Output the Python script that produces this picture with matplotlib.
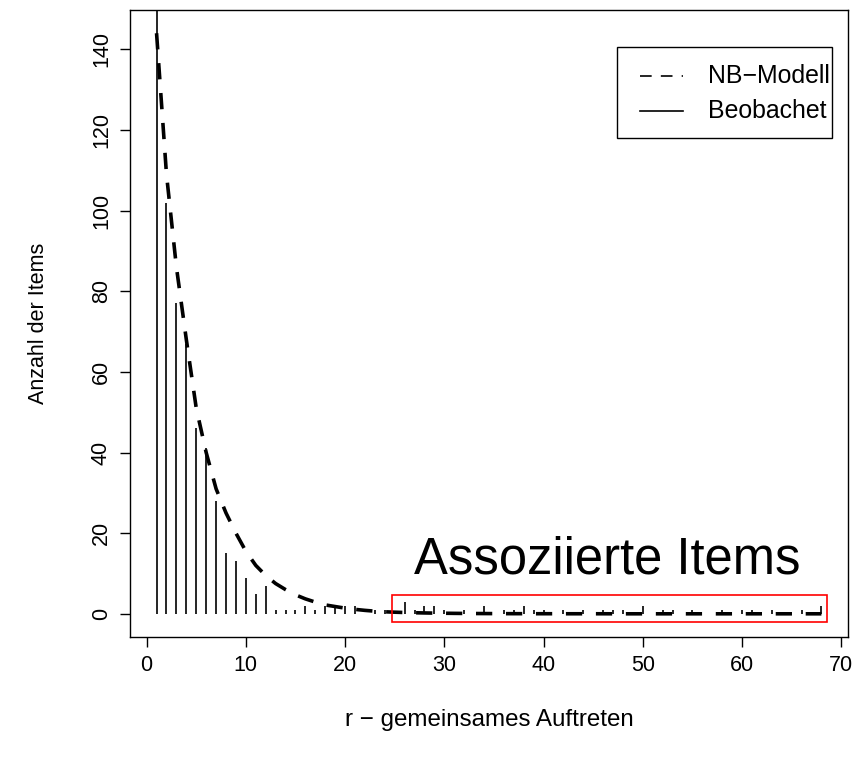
import numpy as np
import matplotlib
matplotlib.use('Agg')
import matplotlib.pyplot as plt
from matplotlib.patches import Rectangle
from matplotlib.lines import Line2D

plt.rcParams['font.family'] = ['Liberation Sans', 'DejaVu Sans']

# gemeinsames Auftreten r = 1..68
r = np.arange(1, 69)

# beobachtete Anzahl der Items je r
beobachtet = [190, 102, 77, 67, 46, 41, 28, 15, 13, 9,
              5, 7, 1, 1, 1, 2, 1, 2, 2, 2,
              2, 0, 1, 1, 0, 3, 1, 2, 2, 1,
              0, 1, 0, 2, 0, 1, 1, 2, 1, 1,
              0, 1, 0, 1, 0, 1, 1, 1, 0, 2,
              0, 1, 1, 0, 1, 0, 0, 1, 0, 1,
              1, 0, 1, 0, 0, 1, 0, 2]

# erwartete Anzahl nach dem NB-Modell
nb_modell = [144, 109, 86, 68, 51, 40, 31, 25, 20, 15.5,
             12, 9.5, 7.5, 6, 4.7, 3.7, 2.9, 2.2, 1.8, 1.4,
             1.1, 0.85, 0.65, 0.5, 0.4, 0.32, 0.26, 0.21, 0.17, 0.14,
             0.11, 0.09, 0.07, 0.06, 0.05, 0.04, 0.03, 0.03, 0.02, 0.02,
             0.02, 0.01, 0.01, 0.01, 0.01, 0.01, 0.0, 0.0, 0.0, 0.0,
             0.0, 0.0, 0.0, 0.0, 0.0, 0.0, 0.0, 0.0, 0.0, 0.0,
             0.0, 0.0, 0.0, 0.0, 0.0, 0.0, 0.0, 0.0]

legende = ['NB\u2212Modell', 'Beobachet']

fig = plt.figure(figsize=(8.59, 7.58), dpi=100)
ax = fig.add_axes([0.1513, 0.1596, 0.8359, 0.8272])

# Modellkurve und beobachtete Haeufigkeiten (Stabdiagramm)
ax.plot(r, nb_modell, color='black', lw=2.6, linestyle=(0, (4.5, 3.8)), zorder=3)
ax.vlines(r, 0, beobachtet, color='black', lw=1.2, zorder=2)

# markierter Bereich der assoziierten Items
ax.add_patch(Rectangle((24.7, -2.0), 43.9, 6.7, fill=False,
                       edgecolor='red', lw=1.2, zorder=4))
ax.text(46.4, 13.4, 'Assoziierte Items', fontsize=36.5, ha='center', va='center')

ax.set_xlim(-1.68, 70.68)
ax.set_ylim(-5.76, 149.76)
ax.set_xticks(np.arange(0, 71, 10))
ax.set_yticks(np.arange(0, 141, 20))
ax.tick_params(labelsize=15.5, length=7, width=1, pad=6)
for lab in ax.get_yticklabels():
    lab.set_rotation(90)
    lab.set_va('center')
for sp in ax.spines.values():
    sp.set_linewidth(1)

ax.set_xlabel('r \u2212 gemeinsames Auftreten', fontsize=17.4, labelpad=24)
ax.set_ylabel('Anzahl der Items', fontsize=15.5, labelpad=30)

# Legende im R-Stil: Rahmen, Linienmuster, Beschriftung
tr = ax.transAxes
ax.add_patch(Rectangle((0.6783, 0.7959), 0.2994, 0.1451, transform=tr,
                       fill=False, edgecolor='black', lw=1, zorder=5))
for yy, ls, txt in zip([0.8947, 0.8389], [(0, (7, 5.5)), '-'], legende):
    ax.add_line(Line2D([0.7103, 0.7702], [yy, yy], transform=tr,
                       color='black', lw=1.2, linestyle=ls, zorder=5))
    ax.text(0.805, yy, txt, transform=tr, fontsize=17.9,
            ha='left', va='center', zorder=5)

fig.savefig('out.png', dpi=100)
